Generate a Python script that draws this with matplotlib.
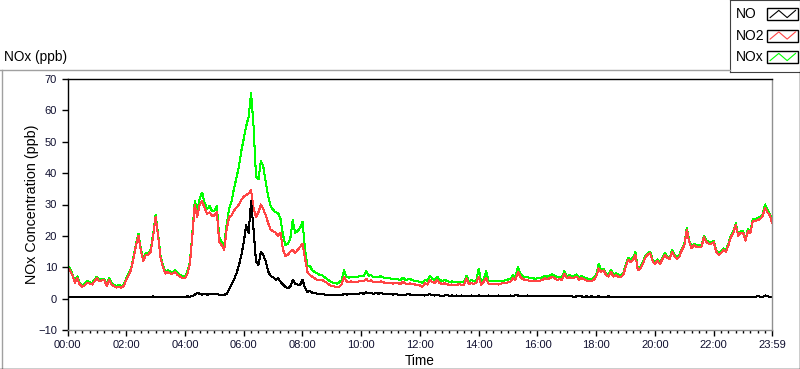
import numpy as np
import matplotlib
matplotlib.use("Agg")
import matplotlib.pyplot as plt
from matplotlib.patches import Rectangle
from matplotlib.lines import Line2D

plt.rcParams['font.family'] = ['Liberation Sans', 'DejaVu Sans']
plt.rcParams['font.size'] = 8

# sample times in minutes after midnight (5 min steps, last sample 23:59)
minutes = np.append(np.arange(0, 1440, 5), 1439)

# NO (ppb), one row per hour
no = [
    0.6, 0.5, 0.4, 0.5, 0.6, 0.5, 0.4, 0.5, 0.6, 0.5, 0.4, 0.5,
    0.5, 0.6, 0.5, 0.4, 0.6, 0.5, 0.5, 0.4, 0.5, 0.6, 0.5, 0.4,
    0.5, 0.6, 0.5, 0.5, 0.4, 0.6, 0.5, 0.6, 0.5, 0.5, 0.6, 0.7,
    0.6, 0.5, 0.6, 0.5, 0.6, 0.5, 0.6, 0.5, 0.6, 0.6, 0.5, 0.6,
    0.6, 0.7, 0.6, 0.8, 1.2, 1.9, 1.5, 1.3, 1.6, 1.2, 1.5, 1.4,
    1.4, 1.6, 1.2, 1.0, 1.2, 1.5, 3.0, 4.5, 6.0, 8.0, 10.5, 13.8,
    18.0, 23.4, 21.0, 31.0, 22.0, 12.0, 10.7, 15.0, 13.9, 11.8, 8.6, 7.2,
    6.8, 6.0, 6.5, 5.4, 4.5, 3.8, 3.3, 3.8, 6.0, 4.8, 4.5, 4.3,
    6.0, 3.5, 2.2, 2.5, 1.9, 1.7, 1.6, 1.5, 1.4, 1.3, 1.2, 1.2,
    1.2, 1.1, 1.2, 1.3, 1.2, 1.4, 1.3, 1.4, 1.5, 1.6, 1.5, 1.6,
    1.7, 1.6, 2.0, 1.8, 1.7, 1.6, 1.7, 1.6, 1.7, 1.6, 1.5, 1.4,
    1.4, 1.3, 1.4, 1.3, 1.2, 1.3, 1.2, 1.4, 1.3, 1.2, 1.2, 1.1,
    1.2, 1.1, 1.0, 1.2, 1.4, 1.1, 1.0, 1.1, 1.0, 0.9, 1.0, 1.1,
    0.9, 1.0, 0.9, 1.0, 0.8, 1.0, 0.9, 0.8, 0.9, 1.0, 0.9, 0.8,
    1.0, 0.9, 0.8, 0.9, 1.0, 0.9, 0.8, 0.9, 1.0, 0.9, 0.8, 0.9,
    0.9, 1.0, 0.9, 1.1, 1.0, 0.9, 0.8, 0.9, 1.0, 0.9, 0.9, 0.8,
    0.8, 0.9, 0.8, 0.7, 0.9, 0.8, 0.7, 0.8, 0.9, 0.8, 0.7, 0.8,
    0.7, 0.8, 0.7, 0.6, 0.7, 0.8, 0.7, 0.6, 0.7, 0.6, 0.7, 0.6,
    0.6, 0.7, 0.6, 0.5, 0.6, 0.7, 0.6, 0.5, 0.6, 0.5, 0.6, 0.5,
    0.5, 0.6, 0.5, 0.6, 0.4, 0.5, 0.6, 0.5, 0.4, 0.5, 0.6, 0.5,
    0.5, 0.4, 0.5, 0.6, 0.5, 0.4, 0.5, 0.6, 0.5, 0.4, 0.5, 0.4,
    0.5, 0.4, 0.5, 0.6, 0.4, 0.5, 0.4, 0.5, 0.6, 0.4, 0.5, 0.4,
    0.4, 0.5, 0.4, 0.5, 0.4, 0.5, 0.6, 0.5, 0.4, 0.5, 0.4, 0.5,
    0.5, 0.4, 0.6, 0.5, 0.6, 0.5, 0.8, 0.6, 0.5, 1.0, 0.8, 0.5,
    0.4,
]

# NO2 (ppb)
no2 = [
    10.0, 9.0, 7.5, 5.0, 6.5, 4.5, 3.8, 4.2, 5.0, 4.8, 4.5, 5.5,
    6.5, 5.5, 5.8, 6.0, 4.0, 6.0, 4.5, 4.0, 3.5, 3.8, 3.5, 4.0,
    6.0, 7.5, 9.3, 13.0, 17.0, 20.0, 15.0, 12.0, 14.0, 14.0, 15.0, 20.0,
    26.0, 20.0, 13.0, 10.0, 8.0, 8.5, 8.0, 8.0, 8.5, 7.5, 7.0, 6.5,
    6.5, 8.0, 11.0, 20.0, 30.0, 26.0, 30.0, 31.0, 29.0, 27.0, 27.5, 26.5,
    26.5, 27.5, 18.0, 17.0, 15.5, 22.0, 26.0, 26.5, 28.0, 29.0, 30.0, 31.5,
    32.5, 33.0, 33.5, 34.5, 29.0, 26.0, 27.5, 30.0, 28.5, 26.5, 24.0, 22.0,
    21.5, 21.0, 20.0, 21.0, 15.7, 13.5, 14.0, 15.0, 15.5, 14.5, 15.5, 16.5,
    17.5, 13.0, 8.5, 7.6, 7.0, 6.5, 6.0, 5.8, 6.0, 5.5, 5.0, 4.4,
    4.0, 3.9, 3.6, 3.8, 4.5, 7.0, 5.5, 5.3, 5.5, 5.2, 5.3, 5.5,
    5.5, 5.6, 6.3, 5.5, 5.8, 5.2, 5.3, 5.2, 5.5, 5.2, 5.0, 5.1,
    5.0, 4.8, 5.0, 4.9, 4.7, 5.4, 4.8, 4.7, 4.9, 4.6, 4.5, 4.4,
    4.2, 3.8, 4.9, 4.5, 5.9, 5.3, 4.9, 5.9, 5.0, 4.7, 4.9, 4.6,
    4.4, 4.5, 4.3, 4.4, 4.6, 4.4, 4.4, 6.5, 4.6, 4.9, 4.7, 5.0,
    7.0, 4.4, 5.4, 6.5, 4.8, 4.6, 4.7, 4.6, 4.5, 4.8, 4.9, 5.0,
    5.2, 5.4, 6.5, 6.0, 8.5, 7.0, 6.2, 6.0, 5.8, 5.7, 5.7, 5.5,
    5.7, 5.7, 6.0, 6.5, 6.2, 6.5, 7.0, 6.5, 6.0, 6.2, 6.0, 8.0,
    6.5, 6.8, 6.5, 6.7, 7.0, 6.0, 6.5, 6.2, 5.8, 5.6, 5.5, 6.0,
    7.0, 9.6, 8.6, 9.0, 7.5, 7.0, 8.6, 7.0, 7.5, 7.0, 6.8, 7.5,
    10.0, 12.4, 11.7, 12.2, 14.0, 9.0, 9.4, 11.0, 13.0, 14.0, 14.5, 12.0,
    11.0, 12.0, 11.0, 12.5, 14.0, 13.0, 12.5, 15.0, 13.5, 12.5, 13.5, 15.5,
    17.0, 22.0, 18.0, 16.0, 17.0, 16.5, 16.5, 16.5, 19.6, 18.0, 17.5, 17.5,
    18.0, 15.0, 14.0, 14.5, 15.5, 15.0, 17.0, 19.6, 21.0, 23.5, 20.0, 21.0,
    21.0, 18.5, 21.6, 21.0, 24.8, 24.8, 25.0, 25.4, 26.4, 29.0, 27.5, 26.4,
    24.0,
]

# NOx (ppb)
nox = [
    10.6, 9.5, 7.9, 5.5, 7.1, 5.0, 4.2, 4.7, 5.6, 5.3, 4.9, 6.0,
    7.0, 6.1, 6.3, 6.4, 4.6, 6.5, 5.0, 4.4, 4.0, 4.4, 4.0, 4.4,
    6.5, 8.1, 9.8, 13.5, 17.4, 20.6, 15.5, 12.6, 14.5, 14.5, 15.6, 20.7,
    26.6, 20.5, 13.6, 10.5, 8.6, 9.0, 8.6, 8.5, 9.1, 8.1, 7.5, 7.1,
    7.1, 8.7, 11.6, 20.8, 31.2, 28.0, 32.0, 33.8, 30.6, 28.5, 29.5, 28.0,
    28.0, 29.5, 19.5, 18.0, 17.0, 23.5, 28.5, 31.0, 35.0, 38.5, 42.0, 47.0,
    51.0, 55.0, 58.0, 65.5, 55.0, 39.0, 38.0, 44.0, 42.0, 37.0, 32.5, 29.5,
    28.3, 27.5, 27.3, 25.5, 20.5, 17.0, 17.5, 19.0, 25.0, 21.0, 21.5, 22.5,
    24.5, 16.0, 10.5, 10.5, 9.0, 8.5, 8.1, 7.5, 7.4, 6.8, 6.3, 5.6,
    5.2, 5.0, 4.8, 5.2, 5.9, 9.0, 6.8, 6.7, 7.0, 6.8, 6.8, 7.1,
    7.2, 7.2, 8.7, 7.3, 7.5, 6.8, 7.0, 6.8, 7.2, 6.8, 6.5, 6.5,
    6.4, 6.1, 6.4, 6.2, 5.9, 6.7, 6.0, 6.1, 6.2, 5.8, 5.7, 5.5,
    5.4, 4.9, 5.9, 5.7, 7.3, 6.4, 5.9, 7.0, 6.0, 5.6, 5.9, 5.7,
    5.3, 5.5, 5.2, 5.4, 5.4, 5.4, 5.3, 7.3, 5.5, 5.9, 5.6, 5.8,
    9.5, 5.3, 6.2, 8.7, 5.8, 5.5, 5.5, 5.5, 5.5, 5.7, 5.7, 5.9,
    6.1, 6.4, 7.4, 6.9, 10.0, 7.9, 7.1, 6.9, 6.8, 6.6, 6.6, 6.3,
    6.5, 6.5, 6.8, 7.3, 7.0, 7.3, 7.8, 7.3, 6.9, 7.0, 6.8, 8.8,
    7.2, 7.5, 7.2, 7.3, 7.7, 6.8, 7.2, 6.8, 6.5, 6.2, 6.2, 6.7,
    7.6, 11.0, 9.2, 9.6, 8.1, 7.6, 9.2, 7.6, 8.1, 7.6, 7.4, 8.1,
    10.5, 13.0, 12.4, 13.0, 14.8, 9.5, 9.9, 11.5, 13.6, 14.5, 15.0, 12.5,
    11.5, 12.5, 11.5, 13.1, 14.5, 13.5, 13.0, 15.5, 14.0, 13.0, 14.0, 16.0,
    17.5, 22.5, 18.5, 16.6, 17.4, 17.0, 17.0, 17.1, 20.0, 18.5, 18.0, 18.0,
    18.4, 15.5, 14.4, 15.0, 16.0, 15.5, 17.6, 20.1, 21.4, 24.0, 20.4, 21.5,
    21.5, 18.9, 22.2, 21.5, 25.4, 25.3, 25.8, 26.0, 26.9, 30.0, 28.3, 26.9,
    24.4,
]

series = [("NO", no, "black"), ("NO2", no2, "#ff4444"), ("NOx", nox, "#00ff00")]

major_min = list(range(0, 1440, 120)) + [1439]
major_lbl = ["%02d:00" % (m // 60) for m in major_min[:-1]] + ["23:59"]

W, H = 800, 369
fig = plt.figure(figsize=(W / 100, H / 100), dpi=100)

# outer panel frame (grey top/left, black bottom/right)
fig.add_artist(Line2D([0, 730 / W], [1 - 69.5 / H] * 2, color="#a0a0a0", lw=1))
fig.add_artist(Line2D([1.5 / W] * 2, [1 - 69.5 / H, 0], color="#a0a0a0", lw=1))
fig.add_artist(Line2D([0, 1], [0.5 / H] * 2, color="black", lw=1))
fig.add_artist(Line2D([799.5 / W] * 2, [0, 1 - 72 / H], color="black", lw=1))
fig.text(4 / W, 1 - 57 / H, "NOx (ppb)", ha="left", va="center", fontsize=9.8)

ax = fig.add_axes([67.5 / W, 1 - 330 / H, (772 - 67.5) / W, (330 - 79) / H])
for name, vals, col in series[::-1]:
    ax.plot(minutes, vals, color=col, lw=0.75, antialiased=False)

ax.set_xlim(0, 1439)
ax.set_ylim(-10, 70)
ax.set_yticks(range(-10, 71, 10))
ax.set_xticks(major_min)
ax.set_xticklabels(major_lbl)
ax.set_xticks(range(0, 1440, 15), minor=True)
ax.tick_params(axis="both", which="major", length=4, width=1, color="black", labelcolor="#101030")
ax.tick_params(axis="y", pad=3.5)
ax.tick_params(axis="x", which="major", pad=3)
ax.tick_params(axis="x", which="minor", length=2.2, width=1, color="black")
for side, col in [("left", "black"), ("top", "black"), ("right", "#909090"), ("bottom", "#909090")]:
    ax.spines[side].set_color(col)
    ax.spines[side].set_linewidth(1)
ax.set_ylabel("NOx Concentration (ppb)", fontsize=10.3)
ax.yaxis.set_label_coords(-0.0405, 0.5)
ax.set_xlabel("Time", fontsize=9.8)
ax.xaxis.set_label_coords(0.5, -0.094)

# legend panel
lg = fig.add_axes([730 / W, 1 - 72 / H, 70 / W, 72 / H])
lg.set_xlim(730, 800)
lg.set_ylim(72, 0)
lg.set_xticks([])
lg.set_yticks([])
for s in lg.spines.values():
    s.set_color("#404040")
zig_x = np.array([0.1, 0.38, 0.65, 0.92])
zig_y = np.array([0.2, 0.8, 0.2, 0.8])
for i, (name, vals, col) in enumerate(series):
    yc = 14 + i * 21.5
    lg.text(736, yc, name, ha="left", va="center", fontsize=10)
    lg.add_patch(Rectangle((767, yc - 6), 31, 12, fill=False, ec="black", lw=1))
    lg.plot(767 + zig_x * 31, yc + 6 - zig_y * 12, color=col, lw=0.8)

fig.savefig("out.png", dpi=100)
